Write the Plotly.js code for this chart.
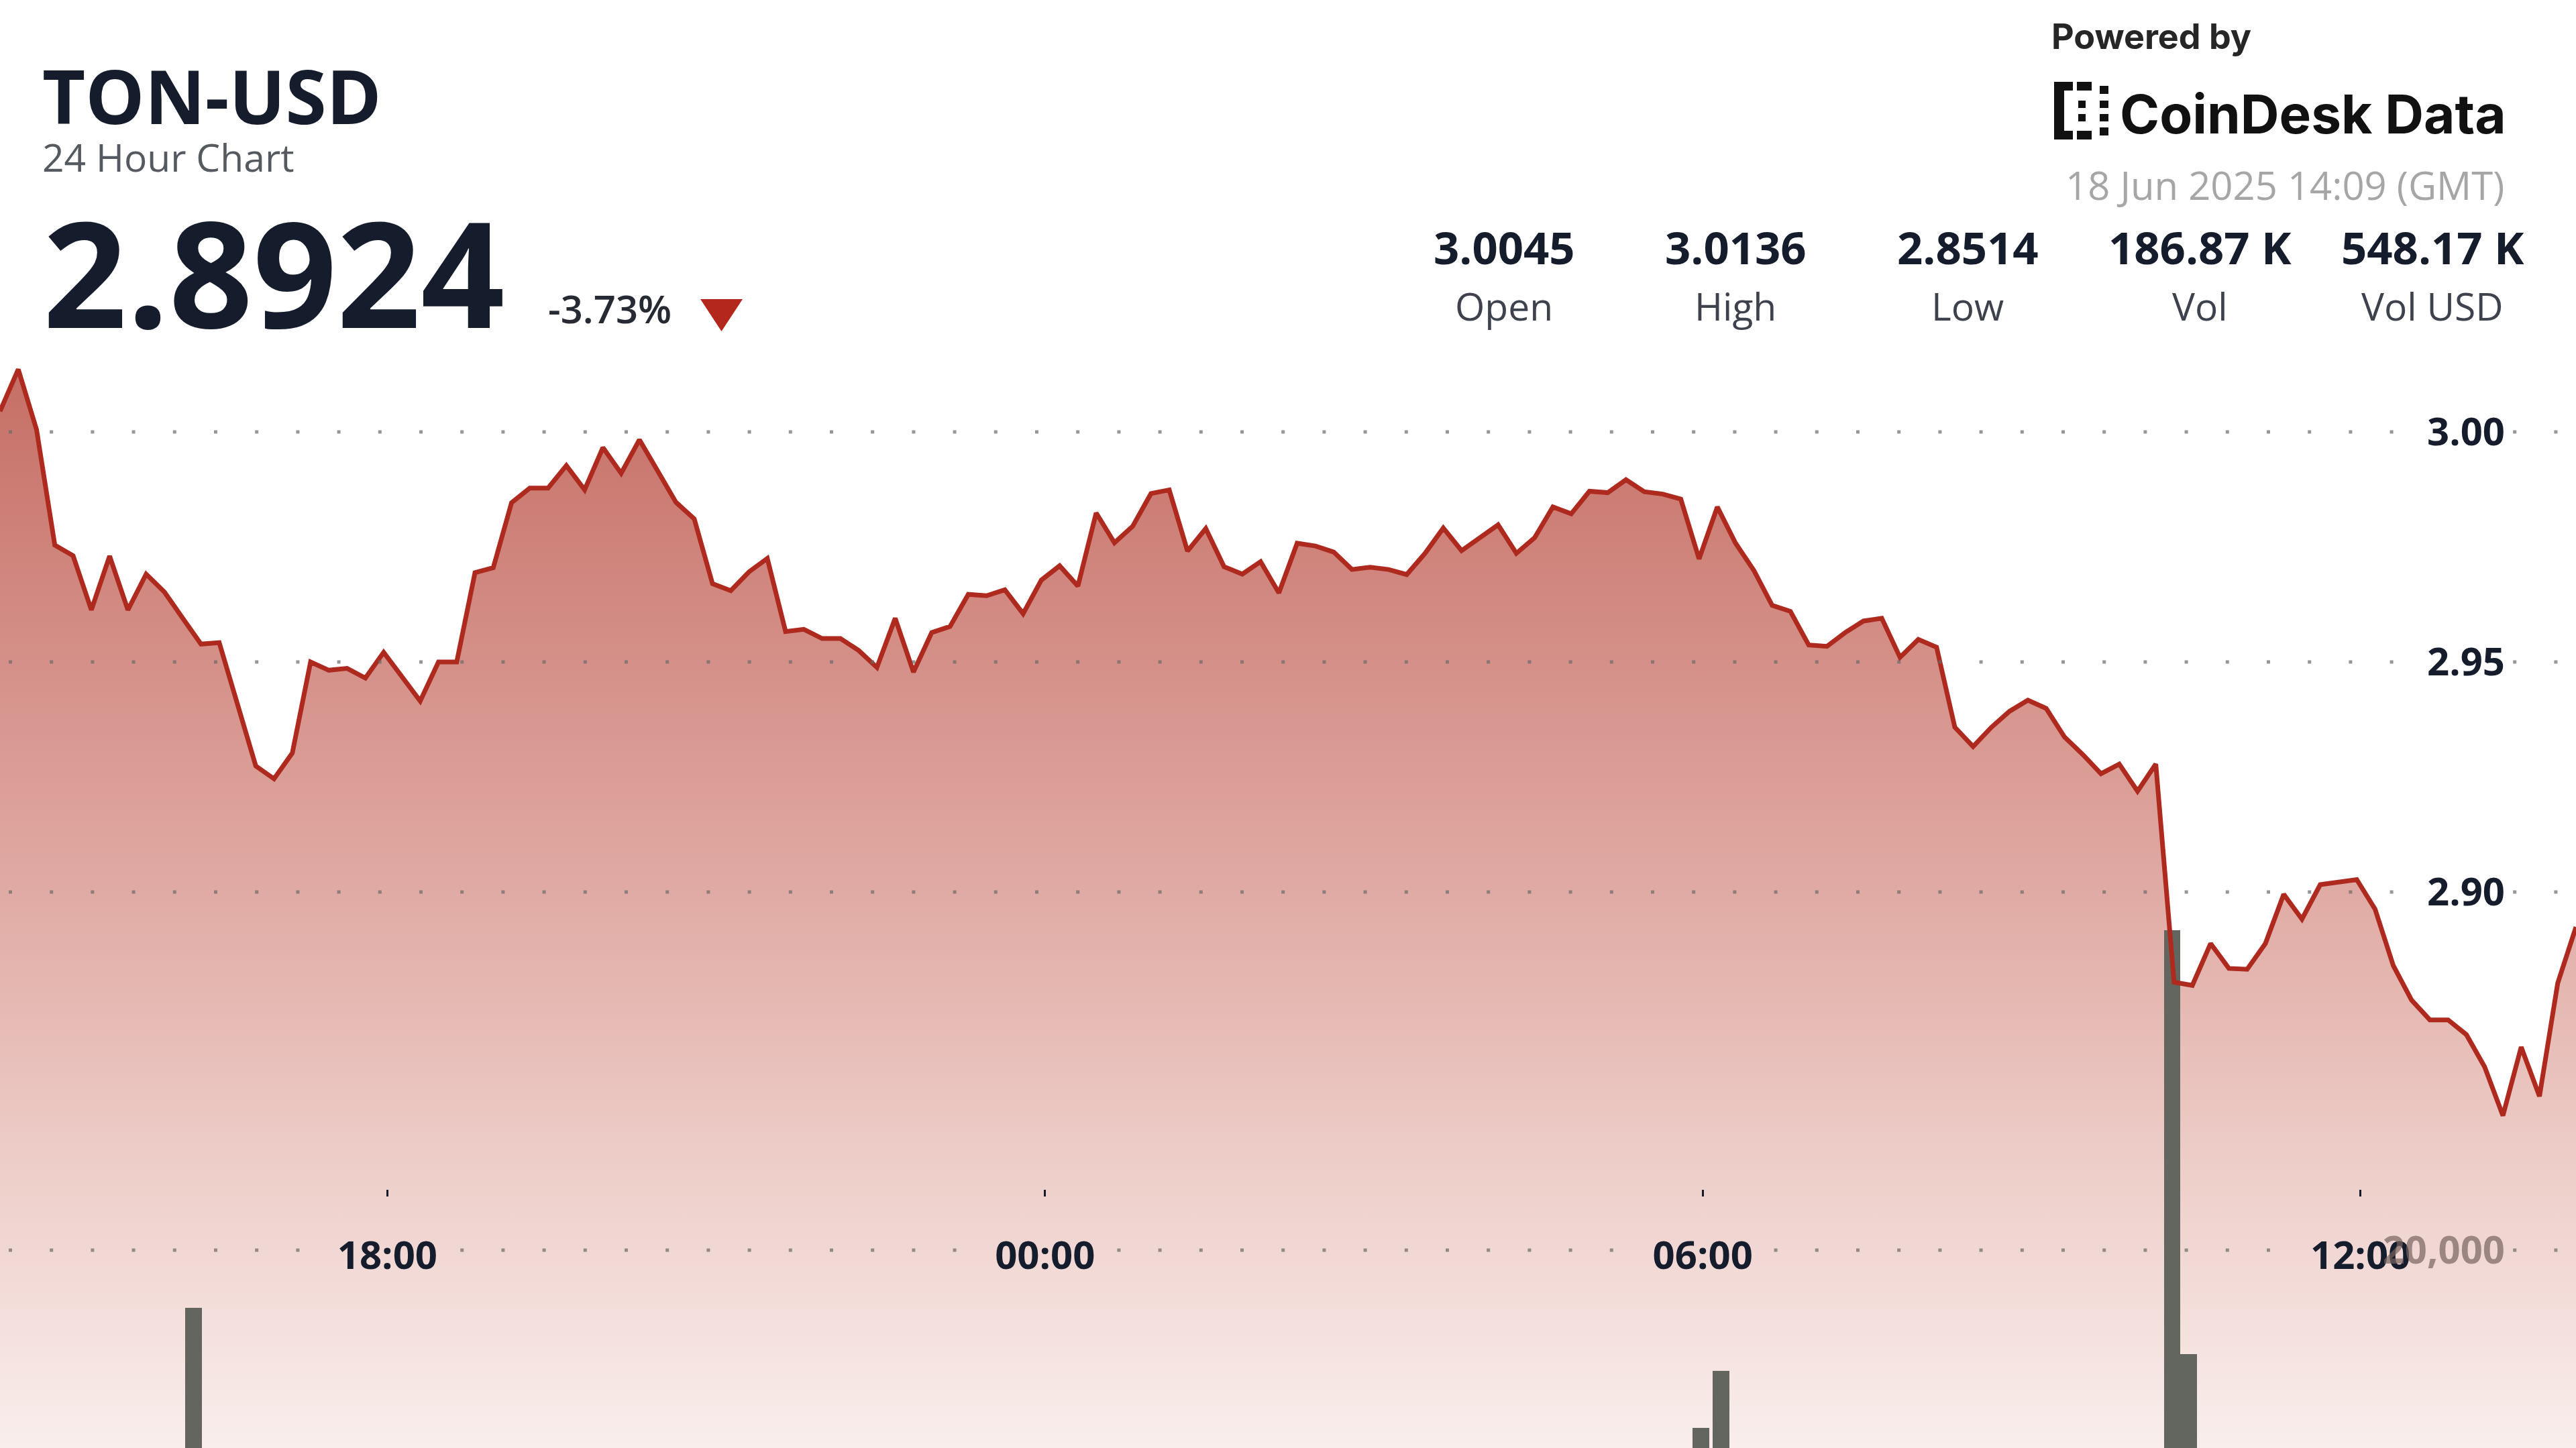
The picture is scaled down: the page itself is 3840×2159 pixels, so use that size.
<!DOCTYPE html>
<html>
<head>
<meta charset="utf-8">
<script src="https://cdn.plot.ly/plotly-3.0.1.min.js"></script>
<style>
html,body{margin:0;padding:0;background:#ffffff;overflow:hidden}
#chart{width:3840px;height:2159px}
</style>
</head>
<body>
<div id="chart"></div>
<script>
// ---------------- data ----------------
const symbol = 'TON-USD';
const subtitle = '24 Hour Chart';
const lastPrice = '2.8924';
const changePct = '-3.73%';
const stampText = '18 Jun 2025 14:09 (GMT)';
const poweredText = 'Powered by';
const brandText = 'CoinDesk Data';
const statValues = ['3.0045', '3.0136', '2.8514', '186.87 K', '548.17 K'];
const statLabels = ['Open', 'High', 'Low', 'Vol', 'Vol USD'];

const startTime = '2025-06-17 14:28';
const stepMinutes = 10;
const prices = [
  3.0045, 3.0136, 3.0005, 2.9754, 2.9731, 2.9613, 2.9730, 2.9613, 2.9691, 2.9652,
  2.9595, 2.9539, 2.9542, 2.9412, 2.9274, 2.9246, 2.9302, 2.9500, 2.9482, 2.9486,
  2.9465, 2.9521, 2.9468, 2.9415, 2.9500, 2.9500, 2.9694, 2.9705, 2.9846, 2.9878,
  2.9878, 2.9927, 2.9874, 2.9966, 2.9910, 2.9983, 2.9915, 2.9847, 2.9811, 2.9670,
  2.9655, 2.9696, 2.9725, 2.9566, 2.9571, 2.9551, 2.9551, 2.9525, 2.9488, 2.9595,
  2.9478, 2.9564, 2.9577, 2.9647, 2.9644, 2.9657, 2.9605, 2.9678, 2.9709, 2.9665,
  2.9824, 2.9759, 2.9795, 2.9866, 2.9874, 2.9741, 2.9790, 2.9707, 2.9691, 2.9718,
  2.9650, 2.9758, 2.9752, 2.9739, 2.9701, 2.9706, 2.9701, 2.9690, 2.9736, 2.9791,
  2.9742, 2.9770, 2.9798, 2.9736, 2.9770, 2.9837, 2.9822, 2.9871, 2.9868, 2.9896,
  2.9870, 2.9865, 2.9854, 2.9724, 2.9837, 2.9758, 2.9699, 2.9623, 2.9610, 2.9537,
  2.9534, 2.9564, 2.9589, 2.9595, 2.9510, 2.9549, 2.9532, 2.9358, 2.9316, 2.9358,
  2.9393, 2.9417, 2.9399, 2.9337, 2.9299, 2.9257, 2.9278, 2.9219, 2.9278, 2.8804,
  2.8797, 2.8888, 2.8834, 2.8832, 2.8888, 2.8995, 2.8941, 2.9016, 2.9021, 2.9027,
  2.8963, 2.8840, 2.8765, 2.8722, 2.8722, 2.8690, 2.8620, 2.8514, 2.8663, 2.8556,
  2.8802, 2.8924
];

const volTimes = ['2025-06-17 16:14', '2025-06-18 05:59', '2025-06-18 06:10', '2025-06-18 10:17', '2025-06-18 10:26'];
const volValues = [16800, 10100, 13300, 37800, 14200];

const priceTicks = [2.90, 2.95, 3.00];
const priceTickText = ['2.90', '2.95', '3.00'];
const volTicks = [20000];
const volTickText = ['20,000'];
const timeTicks = ['2025-06-17 18:00', '2025-06-18 00:00', '2025-06-18 06:00', '2025-06-18 12:00'];
const timeTickText = ['18:00', '00:00', '06:00', '12:00'];

// ---------------- helpers ----------------
function addMinutes(str, m) {
  const [d, t] = str.split(' ');
  const [Y, M, D] = d.split('-').map(Number);
  const [h, mi] = t.split(':').map(Number);
  const dt = new Date(Date.UTC(Y, M - 1, D, h, mi) + m * 60000);
  return dt.toISOString().slice(0, 16).replace('T', ' ');
}
const times = prices.map((_, i) => addMinutes(startTime, i * stepMinutes));

const W = 3840, H = 2159;
const px = x => x / W;
const py = y => 1 - y / H;

// price scale: 3.00 at 644px, 2.90 at 1330px
const pxPerUnit = (1330 - 644) / 0.10;
const yTop = 3.00 + 644 / pxPerUnit;
const yBot = 3.00 - (H - 644) / pxPerUnit;
// volume scale
const volBaseY = 2400, volGridY = 1864;
const volK = (volBaseY - volGridY) / volTicks[0];
const vTop = volBaseY / volK;
const vBot = (volBaseY - H) / volK;

const FONT = 'Open Sans, Noto Sans, sans-serif';
const NAVY = '#151c2c';

// ---------------- traces ----------------
const fillTrace = {
  type: 'scatter', x: times, y: prices, mode: 'none', fill: 'tozeroy',
  fillgradient: {
    type: 'vertical', start: yBot, stop: 3.015,
    colorscale: [
      [0, 'rgb(249,238,236)'],
      [0.25, 'rgb(238,207,202)'],
      [0.5, 'rgb(225,172,166)'],
      [0.75, 'rgb(211,141,133)'],
      [1, 'rgb(197,110,101)']
    ]
  },
  hoverinfo: 'skip', xaxis: 'x', yaxis: 'y'
};
const volTrace = {
  type: 'bar', x: volTimes, y: volValues, width: 9 * 60000,
  marker: {color: '#63665f', line: {width: 0}},
  hoverinfo: 'skip', xaxis: 'x', yaxis: 'y2'
};
const lineTrace = {
  type: 'scatter', x: times, y: prices, mode: 'lines',
  line: {color: '#ae2a1f', width: 7},
  hoverinfo: 'skip', xaxis: 'x', yaxis: 'y3'
};

// ---------------- gridline shapes (dotted) ----------------
const PERIOD = 61.2, PHASE = 13, DOT = 5;
function dotted(x0, x1, yref, yv) {
  let o = ((PHASE - x0) % PERIOD + PERIOD) % PERIOD;
  if (o > PERIOD - DOT) o = 0;
  return {
    type: 'line', xref: 'paper', yref: yref, x0: px(x0), x1: px(x1), y0: yv, y1: yv,
    line: {color: 'rgba(105,105,105,0.7)', width: 5, dash: `0px,${o.toFixed(1)}px,${DOT}px,${(PERIOD - DOT - o).toFixed(1)}px`},
    layer: 'above'
  };
}
const shapes = [];
priceTicks.forEach(v => {
  shapes.push(dotted(0, 3604, 'y', v));
  shapes.push(dotted(3742, 3840, 'y', v));
});
[[0, 496], [664, 1476], [1644, 2456], [2624, 3440], [3742, 3840]].forEach(s => {
  shapes.push(dotted(s[0], s[1], 'y2', volTicks[0]));
});

// down triangle
shapes.push({
  type: 'path', xref: 'paper', yref: 'paper',
  path: `M ${px(1044)} ${py(446)} L ${px(1107)} ${py(446)} L ${px(1075.5)} ${py(494)} Z`,
  fillcolor: '#b3271c', line: {width: 0}
});
// logo icon
function rect(x0, y0, x1, y1) {
  return {type: 'rect', xref: 'paper', yref: 'paper', x0: px(x0), x1: px(x1), y0: py(y1), y1: py(y0),
    fillcolor: '#111111', line: {width: 0}};
}
shapes.push(rect(3062, 124, 3077, 206));
shapes.push(rect(3062, 122, 3090, 135));
shapes.push(rect(3096, 122, 3118, 135));
shapes.push(rect(3062, 195, 3090, 208));
shapes.push(rect(3096, 195, 3118, 208));
shapes.push(rect(3130, 128, 3143, 140));
shapes.push(rect(3130, 190, 3143, 202));
shapes.push(rect(3130, 150, 3143, 161));
shapes.push(rect(3130, 170, 3143, 181));
shapes.push(rect(3098, 150, 3109, 161));
shapes.push(rect(3098, 170, 3109, 181));

// ---------------- annotations ----------------
function ann(text, x, y, size, opts) {
  return Object.assign({
    text: text, xref: 'paper', yref: 'paper', x: px(x), y: py(y),
    xanchor: 'left', yanchor: 'middle', showarrow: false,
    font: {family: FONT, size: size, color: NAVY}
  }, opts || {});
}
const annotations = [
  ann(symbol, 61, 142, 111, {font: {family: FONT, size: 111, color: NAVY, weight: 700}}),
  ann(subtitle, 61, 234, 57, {font: {family: FONT, size: 57, color: '#555a60'}}),
  ann(lastPrice, 62, 404, 219, {font: {family: FONT, size: 219, color: NAVY, weight: 700}}),
  ann(changePct, 815, 459, 58, {font: {family: FONT, size: 58, color: '#262a33', weight: 600}}),
  ann(poweredText, 3056, 54, 52, {font: {family: 'Inter, Roboto, sans-serif', size: 52, color: '#262626', weight: 700}}),
  ann(brandText, 3158, 170, 80, {font: {family: 'Inter, Roboto, sans-serif', size: 80, color: '#111111', weight: 700}}),
  ann(stampText, 3735, 276, 58, {xanchor: 'right', font: {family: FONT, size: 58, color: '#a6a6a6'}})
];
const statCenters = [2242, 2587, 2933, 3279, 3626];
statValues.forEach((v, i) => {
  annotations.push(ann(v, statCenters[i], 368, 67, {xanchor: 'center', font: {family: FONT, size: 67, color: NAVY, weight: 700}}));
  annotations.push(ann(statLabels[i], statCenters[i], 456, 57, {xanchor: 'center', font: {family: FONT, size: 57, color: '#3d424c'}}));
});

// ---------------- layout ----------------
const layout = {
  width: W, height: H,
  margin: {l: 0, r: 0, t: 0, b: 0, pad: 0},
  paper_bgcolor: '#ffffff', plot_bgcolor: 'rgba(0,0,0,0)',
  showlegend: false, hovermode: false, dragmode: false, bargap: 0,
  xaxis: {
    type: 'date', range: [times[0], times[times.length - 1]], domain: [0, 1],
    anchor: 'free', position: 1 - 1773 / H,
    showgrid: false, zeroline: false, showline: false,
    ticks: 'outside', ticklen: 10, tickwidth: 3, tickcolor: NAVY,
    tickmode: 'array', tickvals: timeTicks, ticktext: timeTickText,
    tickfont: {family: FONT, size: 58, color: NAVY, weight: 700},
    ticklabelstandoff: 38
  },
  yaxis: {
    range: [yBot, yTop], domain: [0, 1], anchor: 'free', position: 3734 / W, side: 'left',
    showgrid: false, zeroline: false, showline: false, ticks: '', ticklen: 0,
    tickmode: 'array', tickvals: priceTicks, ticktext: priceTickText,
    tickfont: {family: FONT, size: 58, color: NAVY, weight: 700},
    layer: 'above traces'
  },
  yaxis2: {
    overlaying: 'y', range: [vBot, vTop], anchor: 'free', position: 3734 / W, side: 'left',
    showgrid: false, zeroline: false, showline: false, ticks: '', ticklen: 0,
    tickmode: 'array', tickvals: volTicks, ticktext: volTickText,
    tickfont: {family: FONT, size: 58, color: 'rgba(120,100,95,0.7)', weight: 700}
  },
  yaxis3: {
    overlaying: 'y', range: [yBot, yTop], visible: false
  },
  shapes: shapes,
  annotations: annotations
};

Plotly.newPlot('chart', [fillTrace, volTrace, lineTrace], layout, {staticPlot: true, displayModeBar: false});
</script>
</body>
</html>
